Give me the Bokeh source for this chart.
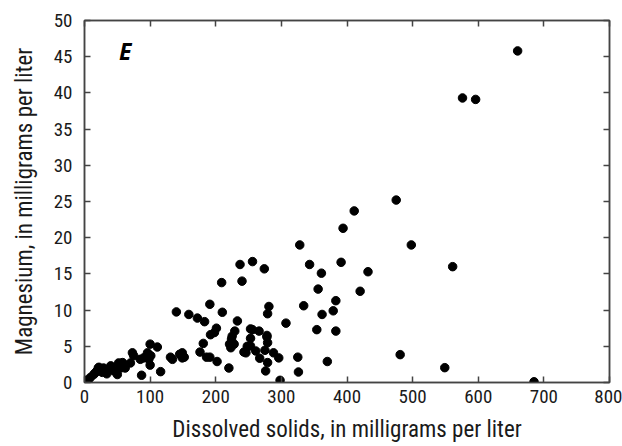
from bokeh.plotting import figure
from bokeh.models import LinearAxis, FixedTicker, Label, Range1d
from bokeh.embed import file_html
from bokeh.resources import INLINE

# Dissolved solids (mg/L) and magnesium (mg/L)
dissolved_solids = [
    2, 5, 9, 14, 16, 19, 21, 22, 27, 29, 34, 37, 40, 42, 45, 50, 52, 55, 58, 60,
    62, 70, 73, 75, 85, 87, 90, 95, 96, 98, 100, 101, 100, 111, 116,
    131, 134, 145, 149, 140, 159, 172, 183, 191, 149, 152, 176, 181, 186, 191,
    202, 201, 198, 192, 209, 210,
    220, 224, 221, 223, 225, 228, 229, 233, 237, 240, 243, 246, 248, 253, 253, 253,
    256, 256, 261, 266, 267, 274, 275, 276, 278, 278, 279, 279, 279, 281, 288, 296, 298,
    307, 325, 326, 328, 334, 343, 354, 356, 361, 362, 370, 379, 383, 383, 391, 394,
    411, 420, 432, 475, 481, 498, 549, 561, 576, 596, 660, 685,
]
magnesium = [
    0.3, 0.2, 0.7, 1.1, 1.3, 1.6, 2.0, 2.1, 1.4, 2.0, 1.2, 1.8, 2.3, 2.0, 1.6, 1.1, 2.7, 2.0, 2.75, 2.3,
    2.0, 2.7, 4.1, 3.7, 3.2, 1.0, 3.4, 3.7, 4.1, 3.2, 2.4, 3.7, 5.3, 4.9, 1.5,
    3.5, 3.2, 3.9, 3.4, 9.75, 9.4, 8.9, 8.4, 10.8, 4.1, 3.5, 4.2, 5.4, 3.5, 3.5,
    2.9, 7.5, 6.9, 6.6, 13.8, 9.7,
    2.0, 6.0, 5.3, 4.8, 6.4, 5.3, 7.1, 8.5, 16.3, 14.0, 4.2, 4.1, 5.0, 6.1, 5.05, 7.4,
    16.7, 7.3, 4.35, 7.1, 3.35, 15.7, 4.45, 1.6, 6.3, 6.5, 9.5, 5.5, 2.75, 10.5, 4.1, 3.4, 0.3,
    8.2, 3.5, 1.45, 19.0, 10.6, 16.3, 7.3, 12.9, 15.1, 9.4, 2.9, 9.9, 11.3, 7.1, 16.6, 21.3,
    23.7, 12.6, 15.3, 25.2, 3.85, 19.0, 2.05, 16.0, 39.3, 39.1, 45.8, 0.1,
]
x_ticks = [0, 100, 200, 300, 400, 500, 600, 700, 800]
y_ticks = [0, 5, 10, 15, 20, 25, 30, 35, 40, 45, 50]
panel_letter = "E"
x_title = "Dissolved solids, in milligrams per liter"
y_title = "Magnesium, in milligrams per liter"

FONT = "Roboto Condensed"
AX = "#444444"
TXT = "#1a1a1a"

p = figure(width=622, height=446, output_backend="svg", toolbar_location=None,
           x_range=Range1d(0, 800), y_range=Range1d(0, 50),
           min_border_left=84, min_border_right=13, min_border_top=20, min_border_bottom=64)
p.xaxis.visible = False
p.yaxis.visible = False
p.grid.visible = False
p.outline_line_color = AX
p.outline_line_width = 1.5

def style(ax, ticks, labels):
    ax.ticker = FixedTicker(ticks=ticks)
    ax.axis_line_color = AX
    ax.axis_line_width = 1.5
    ax.major_tick_in = 6
    ax.major_tick_out = 0
    ax.major_tick_line_color = AX
    ax.major_tick_line_width = 1.5
    ax.minor_tick_line_color = None
    if labels:
        ax.major_label_text_font = FONT
        ax.major_label_text_font_size = "19px"
        ax.major_label_text_color = TXT
        ax.axis_label_text_font = FONT
        ax.axis_label_text_font_style = "normal"
        ax.axis_label_text_font_size = "23px"
        ax.axis_label_text_color = TXT
    else:
        ax.major_label_text_font_size = "0px"
        ax.major_label_text_color = None

bx = LinearAxis(axis_label=x_title)
style(bx, x_ticks, True)
bx.major_label_standoff = 7
bx.axis_label_standoff = 10
p.add_layout(bx, "below")

ly = LinearAxis(axis_label=y_title)
style(ly, y_ticks, True)
ly.major_label_standoff = 12
ly.axis_label_standoff = 13
p.add_layout(ly, "left")

tx = LinearAxis()
style(tx, x_ticks, False)
p.add_layout(tx, "above")

ry = LinearAxis()
style(ry, y_ticks, False)
p.add_layout(ry, "right")

p.scatter(dissolved_solids, magnesium, size=8.5, color="black", line_color="black")

p.add_layout(Label(x=62, y=45.8, text=panel_letter, text_font="Open Sans",
                   text_font_style="bold italic", text_font_size="23px",
                   text_align="center", text_baseline="middle", text_color="black"))

open("out.html", "w").write(file_html(p, INLINE))
